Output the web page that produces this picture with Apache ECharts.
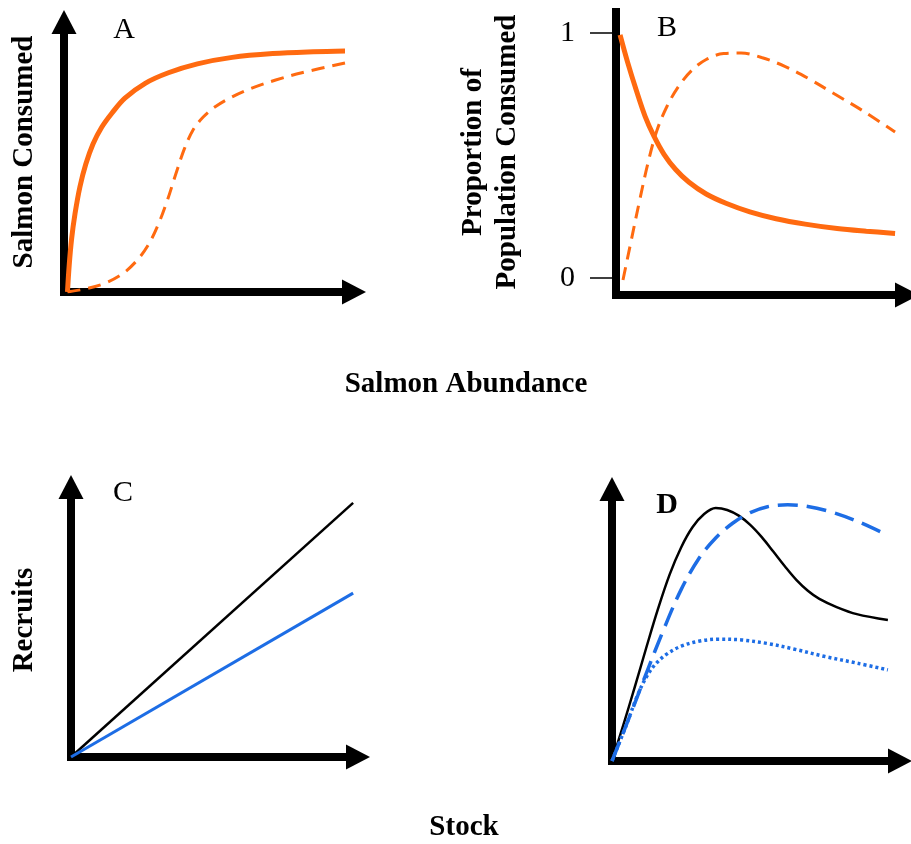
<!DOCTYPE html>
<html>
<head>
<meta charset="utf-8">
<script src="https://cdn.jsdelivr.net/npm/echarts@6/dist/echarts.min.js"></script>
<style>
  html, body { margin: 0; padding: 0; background: #fff; }
  #chart { width: 911px; height: 844px; }
</style>
</head>
<body>
<div id="chart"></div>
<script>
// panel A: salmon consumed vs abundance
const aSolid = [[1.2, 0], [1.8, 10], [2.6, 19.5], [3.8, 29], [5.5, 39], [7.5, 47.3], [10, 54.8], [13, 61],
  [16.5, 66.2], [21, 71.8], [28, 77.3], [36, 81.2], [46, 84.5], [58, 86.9], [72, 88.3], [86, 89], [96.9, 89.3]];
const aDashed = [[1.2, 0], [8, 1.3], [14, 3.2], [20, 6.6], [25, 11.5], [29, 17.3], [32.5, 25], [35.5, 33.5],
  [38.5, 43.5], [41.5, 53], [44.5, 60], [48, 64.8], [52, 68.5], [58, 72.3], [65, 75.6], [73, 78.5], [82, 81.2], [96.9, 84.8]];

// panel B: proportion of population consumed
const bSolid = [[1.4, 0.992], [4, 0.88], [7, 0.765], [10, 0.66], [13, 0.58], [16.5, 0.505], [20.5, 0.443],
  [25, 0.392], [31, 0.343], [38, 0.304], [46, 0.27], [55, 0.242], [65, 0.22], [76, 0.202], [86, 0.191], [95.9, 0.182]];
const bDashed = [[2.4, -0.008], [5, 0.14], [8, 0.31], [11, 0.47], [14, 0.6], [17.5, 0.7], [21.5, 0.782],
  [26, 0.847], [31, 0.892], [37, 0.916], [43, 0.918], [50, 0.9], [58, 0.864], [66, 0.815], [75, 0.752],
  [85, 0.681], [95.9, 0.596]];
const bTicks = [0, 1];

// panel C: recruits vs stock
const cBlack = [[0, 0], [98.3, 94.1]];
const cBlue = [[0, 0], [98.3, 60.7]];

// panel D
const dBlack = [[0, 0], [4, 13.5], [8, 27.5], [12, 42], [16, 56], [20, 68.5], [24, 78.5], [28, 86], [32, 90.8],
  [36, 93], [40, 92.3], [44, 90.2], [48, 86.8], [52, 82.3], [56, 77], [60, 71.6], [64, 66.6], [68, 62.6],
  [72, 59.6], [78, 56.6], [85, 54], [95.8, 51.8]];
const dDashed = [[0, 0], [6, 16], [12, 32.5], [18, 48.5], [24, 63], [30, 74.2], [36, 82], [42, 87.5], [48, 91.3],
  [54, 93.5], [61, 94.2], [68, 93.6], [76, 91.6], [85, 88.2], [94.1, 83.8]];
const dDotted = [[0, 0], [5, 13.3], [9, 24.5], [12, 31], [15, 35.5], [19, 39.3], [24, 42.2], [30, 44], [37, 44.8],
  [45, 44.5], [54, 43.2], [63, 41.2], [74, 38.4], [85, 36], [95.8, 33.5]];

const ORANGE = "#ff6a10";
const BLUE = "#1d6de5";
const SERIF = '"Liberation Serif", "Times New Roman", serif';

function axisLine(arrow) {
  return {
    show: true,
    onZero: false,
    symbol: arrow ? ["none", "triangle"] : "none",
    symbolSize: [25, 24],
    lineStyle: { color: "#000", width: 8, cap: "square" },
  };
}

function plainAxis(gridIndex, min, max, arrow) {
  return {
    type: "value",
    gridIndex: gridIndex,
    min: min,
    max: max,
    axisLine: axisLine(arrow),
    axisTick: { show: false },
    axisLabel: { show: false },
    splitLine: { show: false },
  };
}

function curve(idx, data, color, width, type) {
  return {
    type: "line",
    xAxisIndex: idx,
    yAxisIndex: idx,
    data: data,
    smooth: 0.35,
    showSymbol: false,
    silent: true,
    lineStyle: { color: color, width: width, type: type || "solid" },
    z: 1,
  };
}

function label(text, x, y, opts) {
  opts = opts || {};
  return {
    type: "text",
    x: x,
    y: y,
    rotation: opts.rotate ? Math.PI / 2 : 0,
    style: {
      text: text,
      fontFamily: SERIF,
      fontSize: opts.size || 29,
      fontWeight: opts.bold ? "bold" : "normal",
      lineHeight: 34,
      fill: "#000",
      align: "center",
      verticalAlign: "middle",
      textAlign: "center",
      textVerticalAlign: "middle",
    },
  };
}

const chart = echarts.init(document.getElementById("chart"));

const bYAxis = plainAxis(1, -0.0694, 1.0857, false);
bYAxis.axisTick = {
  show: true,
  customValues: bTicks,
  length: 26,
  lineStyle: { color: "#000", width: 1.5 },
};
bYAxis.axisLabel = {
  show: true,
  customValues: bTicks,
  margin: 41,
  color: "#000",
  fontFamily: SERIF,
  fontSize: 30,
};

const option = {
  backgroundColor: "#fff",
  animation: false,
  grid: [
    { left: 64, top: 22, width: 290, height: 270 },
    { left: 616, top: 12, width: 291, height: 283 },
    { left: 71, top: 487, width: 287, height: 270 },
    { left: 612, top: 489, width: 288, height: 272 },
  ],
  xAxis: [
    plainAxis(0, 0, 100, true),
    plainAxis(1, 0, 100, true),
    plainAxis(2, 0, 100, true),
    plainAxis(3, 0, 100, true),
  ],
  yAxis: [
    plainAxis(0, 0, 100, true),
    bYAxis,
    plainAxis(2, 0, 100, true),
    plainAxis(3, 0, 100, true),
  ],
  series: [
    curve(0, aSolid, ORANGE, 5),
    curve(0, aDashed, ORANGE, 3, [13, 8]),
    curve(1, bSolid, ORANGE, 5),
    curve(1, bDashed, ORANGE, 3, [13, 8]),
    curve(2, cBlack, "#000", 2.5),
    curve(2, cBlue, BLUE, 3),
    curve(3, dBlack, "#000", 2.5),
    curve(3, dDashed, BLUE, 3.5, [20, 9]),
    curve(3, dDotted, BLUE, 3.5, [3, 3]),
  ],
  graphic: [
    label("A", 124, 30, { size: 30 }),
    label("B", 667, 28, { size: 30 }),
    label("C", 123, 493, { size: 30 }),
    label("D", 667, 505, { size: 30, bold: true }),
    label("Salmon Consumed", 25, 152, { bold: true, rotate: true }),
    label("Proportion of\nPopulation Consumed", 491, 152, { bold: true, rotate: true }),
    label("Salmon Abundance", 466, 385, { bold: true }),
    label("Recruits", 25, 620, { bold: true, rotate: true }),
    label("Stock", 464, 828, { bold: true }),
  ],
};

chart.setOption(option);
</script>
</body>
</html>
